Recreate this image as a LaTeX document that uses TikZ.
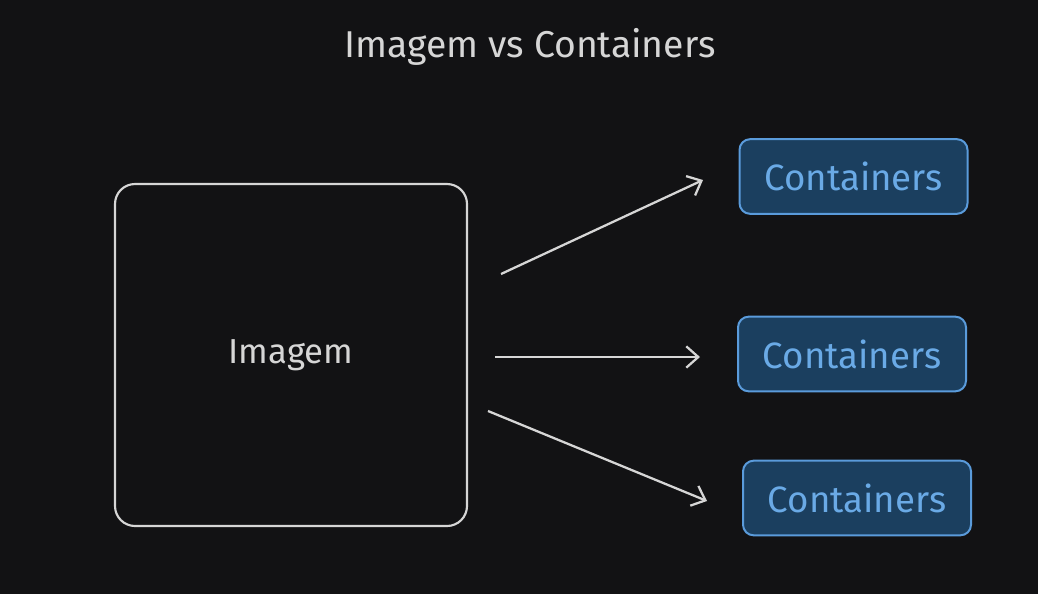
\documentclass[tikz,border=0pt]{standalone}
\usepackage{fontspec}
\setmainfont{Fira Sans}
\usetikzlibrary{arrows.meta}
\definecolor{bg}{HTML}{121214}
\definecolor{chalk}{HTML}{D6D6D6}
\definecolor{boxfill}{HTML}{1B3F5F}
\definecolor{boxline}{HTML}{5A9BDB}
\definecolor{boxtext}{HTML}{6AAAE6}
\begin{document}
\begin{tikzpicture}
        [x=0.75pt,y=-0.75pt,
         image_style/.style={draw=chalk,line width=1.6pt,rounded corners=15pt,
                             minimum width=264pt,minimum height=256.5pt,
                             text=chalk,font=\fontsize{26}{30}\selectfont},
         container_style/.style={draw=boxline,fill=boxfill,line width=1.5pt,
                                 rounded corners=8pt,minimum width=171pt,
                                 minimum height=56pt,text=boxtext,
                                 font=\fontsize{27.5}{32}\selectfont},
         edge_style/.style={draw=chalk,line width=1.7pt,
                            -{Straight Barb[length=9pt,width=16pt,line width=1.7pt]}}]
            \useasboundingbox[fill=bg] (0,0) rectangle (1038,594);
            \node[text=chalk,font=\fontsize{28}{32}\selectfont] (title) at (530,47) {Imagem vs Containers};
            \node[image_style] (img) at (291,355) {Imagem};
            \node[container_style] (c1) at (853.5,176.5) {Containers};
            \node[container_style] (c2) at (852,354) {Containers};
            \node[container_style] (c3) at (857,498) {Containers};
            \coordinate (a1) at (501,274);
            \coordinate (b1) at (703,180);
            \coordinate (a2) at (495,357);
            \coordinate (b2) at (700,357);
            \coordinate (a3) at (488,411);
            \coordinate (b3) at (707,501);
            \draw[edge_style]  (a1) -- (b1);
            \draw[edge_style]  (a2) -- (b2);
            \draw[edge_style]  (a3) -- (b3);
        \end{tikzpicture}
\end{document}
